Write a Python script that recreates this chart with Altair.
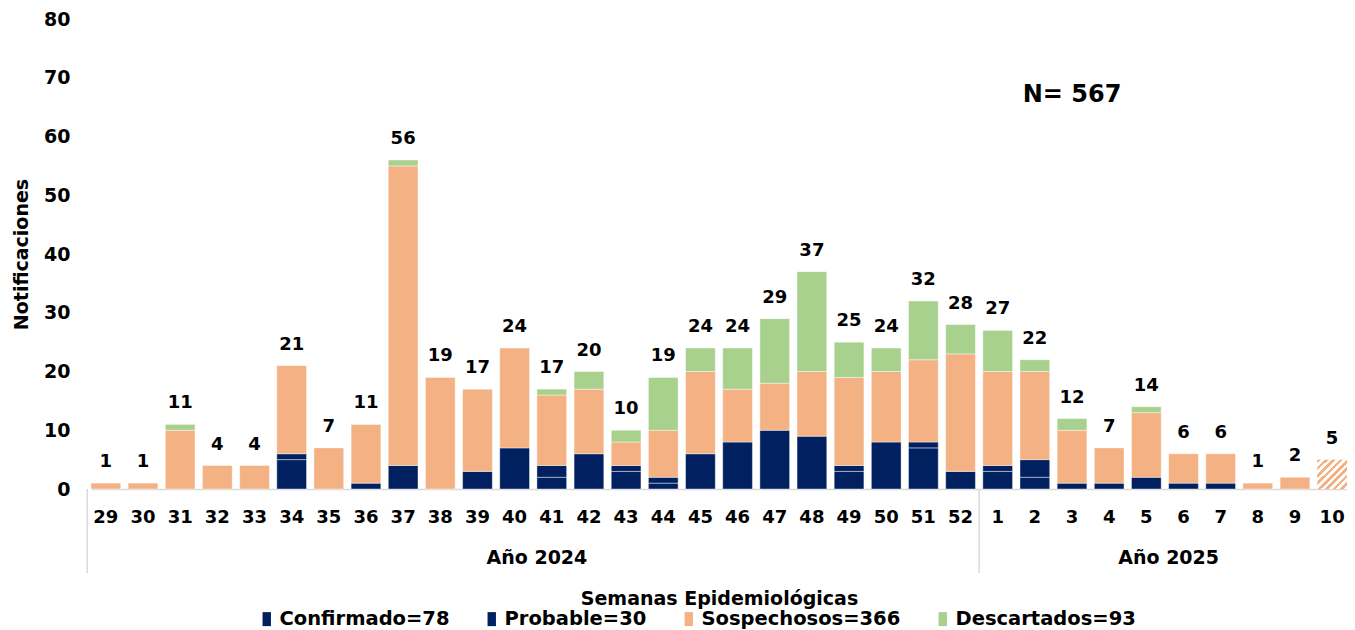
import altair as alt
import pandas as pd

weeks = ["29", "30", "31", "32", "33", "34", "35", "36", "37", "38", "39", "40",
         "41", "42", "43", "44", "45", "46", "47", "48", "49", "50", "51", "52",
         "1", "2", "3", "4", "5", "6", "7", "8", "9", "10"]
years = ["Año 2024"] * 24 + ["Año 2025"] * 10

confirmado = [0, 0, 0, 0, 0, 5, 0, 1, 4, 0, 3, 7, 2, 6, 3, 1, 6, 8, 0, 0, 3, 8, 7, 3,
              3, 2, 1, 1, 2, 1, 1, 0, 0, 0]
probable = [0, 0, 0, 0, 0, 1, 0, 0, 0, 0, 0, 0, 2, 0, 1, 1, 0, 0, 10, 9, 1, 0, 1, 0,
            1, 3, 0, 0, 0, 0, 0, 0, 0, 0]
sospechosos = [1, 1, 10, 4, 4, 15, 7, 10, 51, 19, 14, 17, 12, 11, 4, 8, 14, 9, 8, 11, 15, 12, 14, 20,
               16, 15, 9, 6, 11, 5, 5, 1, 2, 5]
descartados = [0, 0, 1, 0, 0, 0, 0, 0, 1, 0, 0, 0, 1, 3, 2, 9, 4, 7, 11, 17, 6, 4, 10, 5,
               7, 2, 2, 0, 1, 0, 0, 0, 0, 0]
hatched_week = "10"   # last week, still open (hatched)
n_label_week = "3"
n_label_value = 67

series = [("Confirmado", confirmado), ("Probable", probable),
          ("Sospechosos", sospechosos), ("Descartados", descartados)]
labels = [f"{name}={sum(vals)}" for name, vals in series]
colors = ["#002060", "#002060", "#F4B183", "#A9D18E"]

rows = []
for k, (name, vals) in enumerate(series):
    for w, v in zip(weeks, vals):
        if v > 0:
            rows.append({"week": w, "serie": labels[k], "orden": k, "value": v,
                         "hatch": w == hatched_week})
df = pd.DataFrame(rows)

totals = [sum(t) for t in zip(confirmado, probable, sospechosos, descartados)]
tot_df = pd.DataFrame({"week": weeks, "total": totals})

groups = []
for y in dict.fromkeys(years):
    idx = [i for i, yy in enumerate(years) if yy == y]
    n = len(idx)
    groups.append({"label": y, "mid": weeks[idx[0] + n // 2], "first": weeks[idx[0]]})
grp_df = pd.DataFrame(groups)

n_df = pd.DataFrame({"week": [n_label_week], "v": [n_label_value],
                     "txt": [f"N= {sum(totals)}"]})

FONT = "DejaVu Sans"
W, H = 1256, 470
PAD_IN = 0.2
STEP = W / (len(weeks) - PAD_IN)

xscale = alt.Scale(domain=weeks, paddingInner=PAD_IN, paddingOuter=0)
yscale = alt.Scale(domain=[0, 80])

x_main = alt.X("week:N", scale=xscale,
               axis=alt.Axis(title="Semanas Epidemiológicas", labelAngle=0,
                             labelFontSize=18, labelFontWeight="bold", labelColor="black",
                             labelPadding=19, ticks=False, domainColor="#d9d9d9",
                             domainWidth=1.5, titleFontSize=19, titleFontWeight="bold",
                             titleColor="black", titlePadding=63))
y_main = alt.Y("value:Q", stack="zero", scale=yscale,
               axis=alt.Axis(title="Notificaciones", values=list(range(0, 81, 10)),
                             grid=False, domain=False, ticks=False, labelFontSize=19,
                             labelFontWeight="bold", labelColor="black", labelPadding=21,
                             titleFontSize=19, titleFontWeight="bold", titleColor="black",
                             titlePadding=12))

bars = alt.Chart(df).transform_filter("!datum.hatch").mark_bar(
    stroke="white", strokeWidth=0.7, strokeOpacity=0.6
).encode(
    x=x_main,
    y=y_main,
    color=alt.Color("serie:N", scale=alt.Scale(domain=labels, range=colors),
                    legend=alt.Legend(title=None, orient="none", direction="horizontal",
                                      legendX=166, legendY=590, labelFontSize=19.5,
                                      labelFontWeight="bold", labelColor="black",
                                      labelLimit=0,
                                      symbolType="M-0.6,-1H0.6V1H-0.6Z", symbolSize=196,
                                      symbolStrokeWidth=0, labelOffset=3,
                                      columnPadding=32)),
    order=alt.Order("orden:Q"),
)

stops = []
nper = 8
for k in range(nper):
    stops.append(alt.GradientStop(color="#F4B183", offset=k / nper))
    stops.append(alt.GradientStop(color="#F4B183", offset=(k + 0.5) / nper))
    stops.append(alt.GradientStop(color="#FFFFFF", offset=(k + 0.5) / nper))
    stops.append(alt.GradientStop(color="#FFFFFF", offset=(k + 1) / nper))
hatch_fill = alt.LinearGradient(gradient="linear", stops=stops, x1=0, y1=0, x2=1, y2=1)

hatch = alt.Chart(df).transform_filter("datum.hatch").mark_bar(fill=hatch_fill).encode(
    x=alt.X("week:N", scale=xscale),
    y=alt.Y("value:Q", scale=yscale),
)

tot_text = alt.Chart(tot_df).mark_text(
    font=FONT, fontSize=18, fontWeight="bold", color="black", baseline="middle", dy=-21
).encode(
    x=alt.X("week:N", scale=xscale),
    y=alt.Y("total:Q", scale=yscale),
    text="total:Q",
)

year_text = alt.Chart(grp_df).mark_text(
    font=FONT, fontSize=19, fontWeight="bold", color="black", baseline="middle"
).encode(
    x=alt.X("mid:N", scale=xscale, bandPosition=0),
    y=alt.value(H + 69),
    text="label:N",
)

seps = alt.Chart(grp_df).mark_rule(color="#d9d9d9", strokeWidth=1.5,
                                   xOffset=-PAD_IN * STEP / 2).encode(
    x=alt.X("first:N", scale=xscale, bandPosition=0),
    y=alt.value(H),
    y2=alt.value(H + 84),
)

n_text = alt.Chart(n_df).mark_text(
    font=FONT, fontSize=24, fontWeight="bold", color="black", baseline="middle"
).encode(
    x=alt.X("week:N", scale=xscale),
    y=alt.Y("v:Q", scale=yscale),
    text="txt:N",
)

chart = alt.layer(bars, hatch, tot_text, year_text, seps, n_text).properties(
    width=W, height=H,
    autosize=alt.AutoSizeParams(type="none"),
    padding={"left": 83, "top": 11, "right": 0, "bottom": 140},
).configure(
    font=FONT, background="white"
).configure_view(stroke=None)

chart.save("out.html", embed_options={"renderer": "svg", "actions": False})
